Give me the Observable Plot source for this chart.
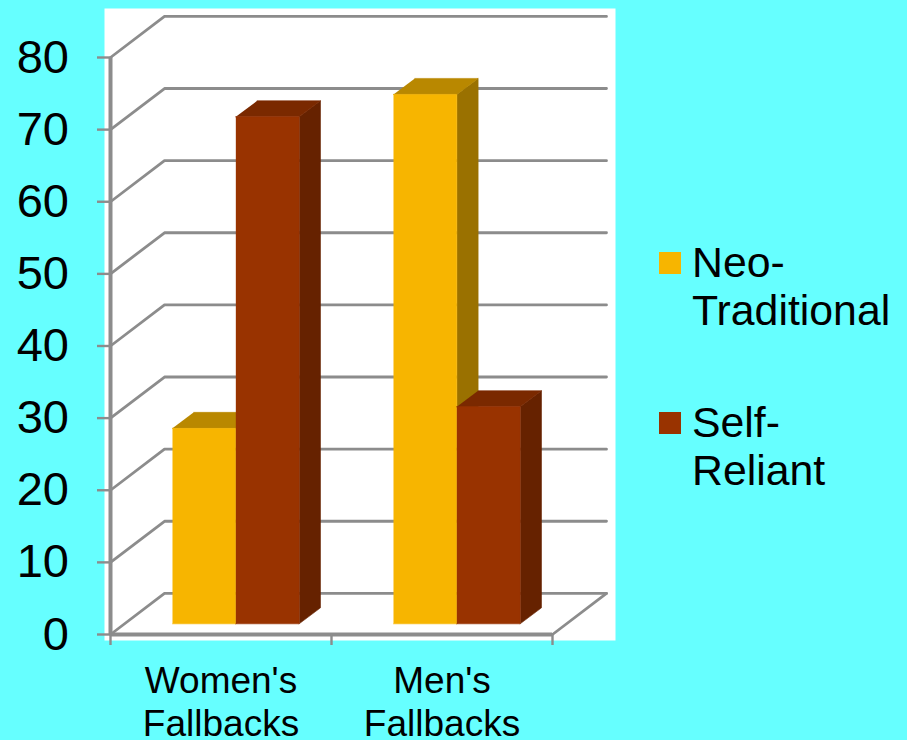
<!DOCTYPE html>
<html>
<head>
<meta charset="utf-8">
<script src="https://cdn.jsdelivr.net/npm/d3@7"></script>
<script src="https://cdn.jsdelivr.net/npm/@observablehq/plot@0.6"></script>
<style>
html,body{margin:0;padding:0;background:#66FFFF;width:907px;height:740px;overflow:hidden;font-family:"Liberation Sans",Arial,sans-serif;}
#wrap{position:relative;width:907px;height:740px;}
#wrap svg{display:block;}
.lg{position:absolute;left:659px;}
.sw{position:absolute;left:0;width:22px;height:22px;}
.lb{position:absolute;left:33px;top:-14px;font-size:42.8px;line-height:48.7px;color:#000;white-space:pre;}
</style>
</head>
<body>
<div id="wrap"></div>
<script>
const categories = ["Women's\nFallbacks", "Men's\nFallbacks"];
const seriesNames = ["Neo-\nTraditional", "Self-\nReliant"];
const neoTraditional = [27.1, 73.4];
const selfReliant = [70.3, 30.1];
const valueTicks = [0, 10, 20, 30, 40, 50, 60, 70, 80];
const frontColors = ["#F7B500", "#993300"];
const sideColors = ["#9A7100", "#662200"];
const topColors = ["#B98800", "#7A2900"];
const gridColor = "#8C8C8C";

// 3D projection, in data units: depth of the box, and of each bar
const wallDx = 0.2443, wallDy = 5.7;
const barDx = 0.0964, barDy = 2.22;
const floorY = 1.48;             // bar base above front floor edge
const barStart = 0.2805, barWidth = 0.2866;

const poly = (pts, fill) => Plot.line(pts, {x: "x", y: "y", fill, stroke: fill, strokeWidth: 0.6, curve: "linear"});
const P = (x, y) => ({x, y});

const barMarks = [];
categories.forEach((_, c) => {
  [neoTraditional, selfReliant].forEach((series, s) => {
    const x0 = c + barStart + s * barWidth, x1 = x0 + barWidth;
    const y0 = floorY, y1 = series[c] + floorY;
    barMarks.push(
      poly([P(x1, y0), P(x1 + barDx, y0 + barDy), P(x1 + barDx, y1 + barDy), P(x1, y1)], sideColors[s]),
      poly([P(x0, y1), P(x1, y1), P(x1 + barDx, y1 + barDy), P(x0 + barDx, y1 + barDy)], topColors[s]),
      poly([P(x0, y0), P(x1, y0), P(x1, y1), P(x0, y1)], frontColors[s])
    );
  });
});

const gridMarks = valueTicks.map(v =>
  Plot.line([P(0, v), P(wallDx, v + wallDy), P(2 + wallDx, v + wallDy)],
    {x: "x", y: "y", stroke: gridColor, strokeWidth: 2.8, curve: "linear", strokeLinejoin: "miter"})
);

const chart = Plot.plot({
  width: 907,
  height: 740,
  marginLeft: 110,
  marginRight: 355,
  marginTop: 57,
  marginBottom: 106,
  style: {background: "transparent", fontFamily: "'Liberation Sans', Arial, sans-serif"},
  x: {type: "linear", domain: [0, 2]},
  y: {type: "linear", domain: [0, 80]},
  marks: [
    Plot.frame({fill: "white", stroke: "none", insetLeft: -6, insetTop: -49, insetRight: -63, insetBottom: -6}),
    ...gridMarks,
    Plot.line([P(2, 0), P(2 + wallDx, wallDy)], {x: "x", y: "y", stroke: gridColor, strokeWidth: 2.8}),
    ...barMarks,
    Plot.ruleX([0], {y1: 0, y2: 80, stroke: gridColor, strokeWidth: 4}),
    Plot.ruleY([0], {x1: 0, x2: 2, stroke: gridColor, strokeWidth: 4}),
    Plot.axisY({ticks: valueTicks, tickSize: 13, tickPadding: 28.5, fontSize: 47, stroke: gridColor, strokeWidth: 2.4, fill: "black", label: null, tickFormat: d => String(d)}),
    Plot.axisX({ticks: [0, 1, 2], tickSize: 11, stroke: gridColor, strokeWidth: 2.4, tickFormat: () => "", label: null}),
    Plot.axisX({ticks: [0.5, 1.5], tickSize: 0, tickPadding: 28, fontSize: 37, lineHeight: 1.16, fill: "black", label: null,
      tickFormat: d => categories[Math.floor(d)]})
  ]
});
const wrap = document.getElementById("wrap");
wrap.appendChild(chart);

const legendTops = [251.5, 411.5];
seriesNames.forEach((name, i) => {
  const g = document.createElement("div");
  g.className = "lg";
  g.style.top = legendTops[i] + "px";
  const sw = document.createElement("div");
  sw.className = "sw";
  sw.style.background = frontColors[i];
  const lb = document.createElement("div");
  lb.className = "lb";
  lb.textContent = name;
  g.append(sw, lb);
  wrap.appendChild(g);
});
</script>
</body>
</html>
